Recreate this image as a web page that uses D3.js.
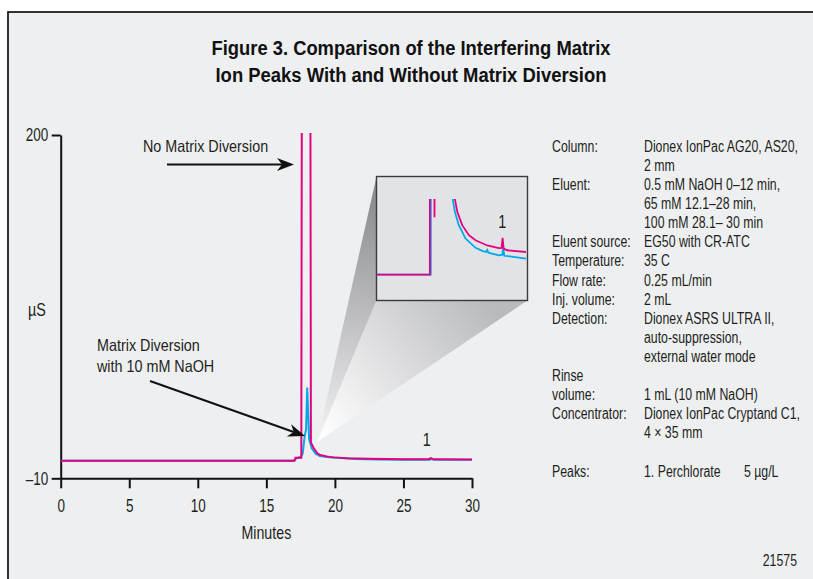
<!DOCTYPE html>
<html>
<head>
<meta charset="utf-8">
<script src="https://cdn.jsdelivr.net/npm/d3@7"></script>
<style>
  html, body { margin: 0; padding: 0; background: #fff; }
  svg { display: block; }
  text { font-family: "Liberation Sans", Arial, sans-serif; fill: #231f20; }
</style>
</head>
<body>
<svg id="chart" width="813" height="579"></svg>
<script>
const titleLines = ["Figure 3. Comparison of the Interfering Matrix", "Ion Peaks With and Without Matrix Diversion"];
const xTicks = [0, 5, 10, 15, 20, 25, 30];
const yTicks = [-10, 200];

// main traces: [minutes, µS]
const noDiversion = [
  [0, 0.76], [17.05, 0.76], [17.12, 2.6], [17.55, 2.6], [17.6, 300], [18.2, 300],
  [18.25, 12], [18.45, 8.5], [18.7, 5.5], [18.92, 4.2], [19.4, 3.3], [19.9, 2.8],
  [20.9, 2.2], [22.5, 1.9], [25, 1.7], [26.8, 1.6], [27.0, 2.3], [27.2, 1.6], [30, 1.55]
];
const withDiversion = [
  [0, 0.76], [17.0, 0.76], [17.2, 2.3], [17.5, 3.0], [17.65, 5], [17.8, 16], [17.9, 20],
  [17.98, 45.5], [18.05, 30], [18.12, 14], [18.3, 8.5], [18.6, 5.0], [18.9, 3.6],
  [19.6, 2.9], [20.4, 2.4], [21.5, 1.8], [23, 1.45], [25, 1.35], [26.9, 1.3],
  [27.05, 1.8], [27.2, 1.3], [30, 1.3]
];

// inset traces (magnified signal)
const insetNoDiversion = [
  [10.7, 0], [17.59, 0], [17.6, 4], [18.17, 4], [18.19, 1.67], [18.21, 4], [20.7, 4],
  [20.82, 2.2], [21.13, 1.83], [21.77, 1.44], [22.63, 1.15], [23.49, 1.0], [25.0, 0.85],
  [26.5, 0.77], [26.85, 0.78], [26.98, 1.07], [27.12, 0.76], [27.59, 0.71], [30.0, 0.66]
];
const insetWithDiversion = [
  [10.7, 0], [17.71, 0], [17.72, 4], [20.45, 4], [20.56, 2.17], [20.82, 1.83], [21.33, 1.44],
  [22.2, 1.05], [23.49, 0.78], [24.5, 0.68], [24.85, 0.66], [25.0, 0.72], [25.15, 0.64],
  [26.5, 0.56], [26.95, 0.58], [27.07, 0.79], [27.2, 0.55], [27.59, 0.54], [30.0, 0.47]
];

const conditions = [
  ["Column:", "Dionex IonPac AG20, AS20,"],
  ["", "2 mm"],
  ["Eluent:", "0.5 mM NaOH 0–12 min,"],
  ["", "65 mM 12.1–28 min,"],
  ["", "100 mM 28.1– 30 min"],
  ["Eluent source:", "EG50 with CR-ATC"],
  ["Temperature:", "35 C"],
  ["Flow rate:", "0.25 mL/min"],
  ["Inj. volume:", "2 mL"],
  ["Detection:", "Dionex ASRS ULTRA II,"],
  ["", "auto-suppression,"],
  ["", "external water mode"],
  ["Rinse", ""],
  ["volume:", "1 mL (10 mM NaOH)"],
  ["Concentrator:", "Dionex IonPac Cryptand C1,"],
  ["", "4 × 35 mm"],
  ["", ""],
  ["Peaks:", "1. Perchlorate"]
];

const PINK = "#e5007e";
const BLUE = "#00a9e8";
const NARROW = 0.77; // condensed look from a regular face

const svg = d3.select("#chart");
const defs = svg.append("defs");

// condensed text helper
function ntext(parent, x, y, str, size, opt = {}) {
  return parent.append("text")
    .attr("transform", `translate(${x},${y}) scale(${opt.sx || NARROW},1)`)
    .attr("text-anchor", opt.anchor || "start")
    .style("font-size", size + "px")
    .style("fill", opt.fill || null)
    .text(str);
}

// frame
svg.append("rect")
  .attr("x", 8).attr("y", 12).attr("width", 900).attr("height", 700)
  .attr("fill", "#eeeff1").attr("stroke", "#000").attr("stroke-width", 1.6);

// title
titleLines.forEach((t, i) => {
  svg.append("text")
    .attr("x", 411).attr("y", 55 + i * 27)
    .attr("text-anchor", "middle")
    .attr("textLength", i === 0 ? 399 : 391)
    .attr("lengthAdjust", "spacingAndGlyphs")
    .style("font-weight", "bold").style("font-size", "20px").style("fill", "#111")
    .text(t);
});

// scales
const x = d3.scaleLinear().domain([0, 30]).range([60.7, 472]);
const y = d3.scaleLinear().domain([-10, 200]).range([478.3, 135]);

// zoom cone (behind the traces)
const apex = [317, 442];
const box = { x: 376.5, y: 176.5, w: 151, h: 124 };

const gLeft = defs.append("linearGradient").attr("id", "coneLeft")
  .attr("gradientUnits", "userSpaceOnUse")
  .attr("x1", box.x).attr("y1", box.y + 30).attr("x2", apex[0]).attr("y2", apex[1]);
gLeft.append("stop").attr("offset", 0).attr("stop-color", "#8f9093");
gLeft.append("stop").attr("offset", 1).attr("stop-color", "#f4f4f5");

const gBottom = defs.append("linearGradient").attr("id", "coneBottom")
  .attr("gradientUnits", "userSpaceOnUse")
  .attr("x1", box.x + 110).attr("y1", box.y + box.h).attr("x2", apex[0] + 5).attr("y2", apex[1] - 5);
gBottom.append("stop").attr("offset", 0).attr("stop-color", "#b9babd");
gBottom.append("stop").attr("offset", 1).attr("stop-color", "#ffffff");

svg.append("path")
  .attr("d", `M${apex}L${box.x + box.w},${box.y + box.h}L${box.x},${box.y + box.h}Z`)
  .attr("fill", "url(#coneBottom)");
svg.append("path")
  .attr("d", `M${apex}L${box.x},${box.y + box.h}L${box.x},${box.y}Z`)
  .attr("fill", "url(#coneLeft)");

// axes
const xAxis = svg.append("g")
  .attr("transform", `translate(0,${y(-10)})`)
  .call(d3.axisBottom(x).tickValues(xTicks).tickSize(10).tickSizeOuter(0).tickPadding(11));
const yAxis = svg.append("g")
  .attr("transform", `translate(${x(0)},0)`)
  .call(d3.axisLeft(y).tickValues(yTicks).tickSize(9).tickSizeOuter(0)
    .tickFormat(d => d < 0 ? "–" + Math.abs(d) : d));
[xAxis, yAxis].forEach(a => {
  a.selectAll("path, line").attr("stroke", "#111").attr("stroke-width", 2);
  a.selectAll("text").style("font-size", "18px").style("fill", "#231f20");
});
xAxis.selectAll("text").attr("transform", "scale(0.75,1)");
yAxis.selectAll("text").attr("x", 0).attr("transform", "translate(-12.5,0) scale(0.75,1)");

ntext(svg, x(15), 539, "Minutes", 18, { anchor: "middle", sx: 0.79 });
ntext(svg, 37, 316, "µS", 18, { anchor: "middle", sx: 0.8 });

// traces
defs.append("clipPath").attr("id", "plotClip")
  .append("rect").attr("x", x(0)).attr("y", 133).attr("width", x(30) - x(0) + 4).attr("height", y(-10) - 133);

const line = d3.line().x(d => x(d[0])).y(d => y(d[1]));
const plot = svg.append("g").attr("clip-path", "url(#plotClip)");
plot.append("path").datum(withDiversion).attr("d", line)
  .attr("fill", "none").attr("stroke", BLUE).attr("stroke-width", 2);
plot.append("path").datum(noDiversion).attr("d", line)
  .attr("fill", "none").attr("stroke", PINK).attr("stroke-width", 2);

ntext(svg, x(26.7), 446, "1", 18, { anchor: "middle", sx: 0.8 });

// inset
svg.append("rect")
  .attr("x", box.x).attr("y", box.y).attr("width", box.w).attr("height", box.h)
  .attr("fill", "#e2e3e6").attr("stroke", "#3a3a3a").attr("stroke-width", 1.4);

const ix = d3.scaleLinear().domain([10.7, 30.2]).range([box.x, box.x + box.w]);
const iy = d3.scaleLinear().domain([-0.75, 2.2]).range([box.y + box.h, 199]);
defs.append("clipPath").attr("id", "insetClip")
  .append("rect").attr("x", box.x).attr("y", 199).attr("width", box.w).attr("height", box.y + box.h - 199);
const iline = d3.line().x(d => ix(d[0])).y(d => iy(d[1]));
const inset = svg.append("g").attr("clip-path", "url(#insetClip)");
inset.append("path").datum(insetWithDiversion).attr("d", iline)
  .attr("fill", "none").attr("stroke", BLUE).attr("stroke-width", 1.8);
inset.append("path").datum(insetNoDiversion).attr("d", iline)
  .attr("fill", "none").attr("stroke", PINK).attr("stroke-width", 1.8);
ntext(svg, ix(26.95), 227.5, "1", 18, { anchor: "middle", sx: 0.8 });

// annotations with arrows
function arrow(x1, y1, x2, y2) {
  const a = Math.atan2(y2 - y1, x2 - x1);
  const len = 17, half = 6.5, notch = 12;
  const bx = x2 - len * Math.cos(a), by = y2 - len * Math.sin(a);
  const nx = x2 - notch * Math.cos(a), ny = y2 - notch * Math.sin(a);
  const px = -Math.sin(a), py = Math.cos(a);
  svg.append("line").attr("x1", x1).attr("y1", y1).attr("x2", nx).attr("y2", ny)
    .attr("stroke", "#111").attr("stroke-width", 2);
  svg.append("path")
    .attr("d", `M${x2},${y2}L${bx + px * half},${by + py * half}L${nx},${ny}L${bx - px * half},${by - py * half}Z`)
    .attr("fill", "#111");
}

ntext(svg, 143, 152, "No Matrix Diversion", 16.5, { sx: 0.87 });
arrow(167, 164.5, 294, 164.5);

ntext(svg, 97, 350.5, "Matrix Diversion", 16.5, { sx: 0.87 });
ntext(svg, 97, 371.5, "with 10 mM NaOH", 16.5, { sx: 0.87 });
arrow(150, 381, 305, 436);

// conditions panel
conditions.forEach((row, i) => {
  const yy = 151.8 + i * 19.1;
  if (row[0]) ntext(svg, 552, yy, row[0], 16);
  if (row[1]) ntext(svg, 644, yy, row[1], 16);
});
ntext(svg, 744, 151.8 + 17 * 19.1, "5 µg/L", 16);

ntext(svg, 797, 565.5, "21575", 16, { anchor: "end" });
</script>
</body>
</html>
